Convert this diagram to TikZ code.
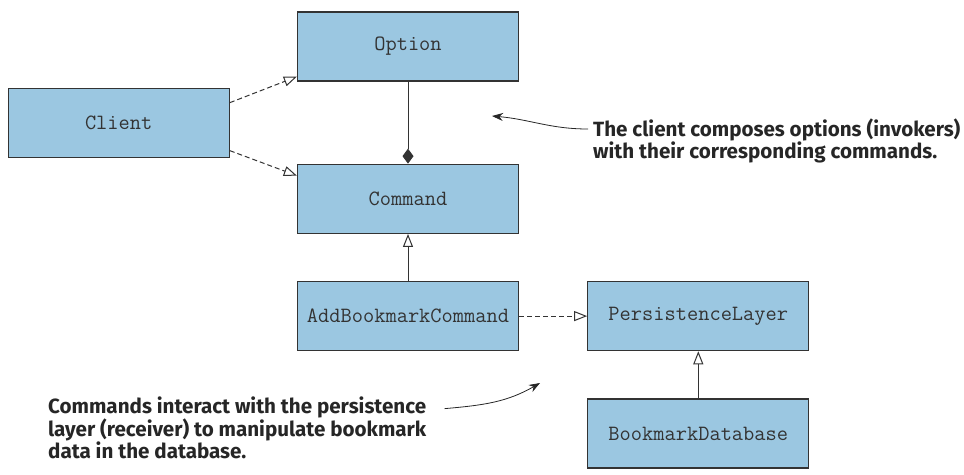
\documentclass[tikz,border=0pt]{standalone}
\usepackage{fontspec}
\newfontfamily\notefont{Fira Sans}
\usetikzlibrary{arrows.meta, positioning, calc}
\definecolor{boxblue}{RGB}{155,199,225}
\definecolor{linegray}{RGB}{51,51,51}

\begin{document}
\begin{tikzpicture}[
  x=1pt, y=1pt,
  cls/.style={rectangle, draw=linegray, line width=1.3pt, fill=boxblue,
              minimum width=221pt, minimum height=69pt, inner sep=0pt,
              font=\fontsize{21.8}{24}\selectfont\ttfamily, text=linegray},
  note/.style={align=left, inner sep=0pt, text=black!85,
               font=\fontsize{20.6}{22}\selectfont\notefont\bfseries},
  realize/.style={dash pattern=on 5pt off 3pt, line width=1pt, draw=linegray,
                  -{Triangle[open, length=13pt, width=10pt]}},
  inherit/.style={line width=1pt, draw=linegray,
                  -{Triangle[open, length=13pt, width=10pt]}},
  compose/.style={line width=1pt, draw=linegray,
                  -{Diamond[length=15pt, width=11pt]}},
  callout/.style={line width=0.8pt, draw=black!85,
                  -{Stealth[length=11pt, width=8pt]}}
]
  \useasboundingbox (0,0) rectangle (964,-474);

  % classes
  \node[cls] (option) at (408,-46.5) {Option};
  \node[cls, below=82pt of option] (command) {Command};
  \coordinate (clientref) at ($(option.west)!0.5!(command.west)$);
  \node[cls, left=67pt of clientref] (client) {Client};
  \node[cls, below=47pt of command] (addcmd) {AddBookmarkCommand};
  \node[cls, right=68pt of addcmd]  (persist) {PersistenceLayer};
  \node[cls, below=47pt of persist] (bmdb) {BookmarkDatabase};

  % relations
  \draw[realize] ([yshift=20pt]client.east) -- ([yshift=5pt]option.south west);
  \draw[realize] ([yshift=-28pt]client.east) -- ([yshift=-12pt]command.north west);
  \draw[compose] (option) -- (command);
  \draw[inherit] (addcmd) -- (command);
  \draw[realize] (addcmd) -- (persist);
  \draw[inherit] (bmdb) -- (persist);

  % annotations
  \node[note, anchor=west] (noteclient) at (593,-141)
    {The client composes options (invokers)\\with their corresponding commands.};
  \node[note, anchor=west] (notecmd) at (48,-428)
    {Commands interact with the persistence\\layer (receiver) to manipulate bookmark\\data in the database.};
  \coordinate (clienttip) at (492,-116);
  \coordinate (cmdtip) at (540,-383);
  \draw[callout] ([xshift=-5pt, yshift=12pt]noteclient.west)
    to[out=180, in=-5] (clienttip);
  \draw[callout] ($(notecmd.north east)+(18pt,-12pt)$)
    to[out=5, in=210] (cmdtip);
\end{tikzpicture}
\end{document}
